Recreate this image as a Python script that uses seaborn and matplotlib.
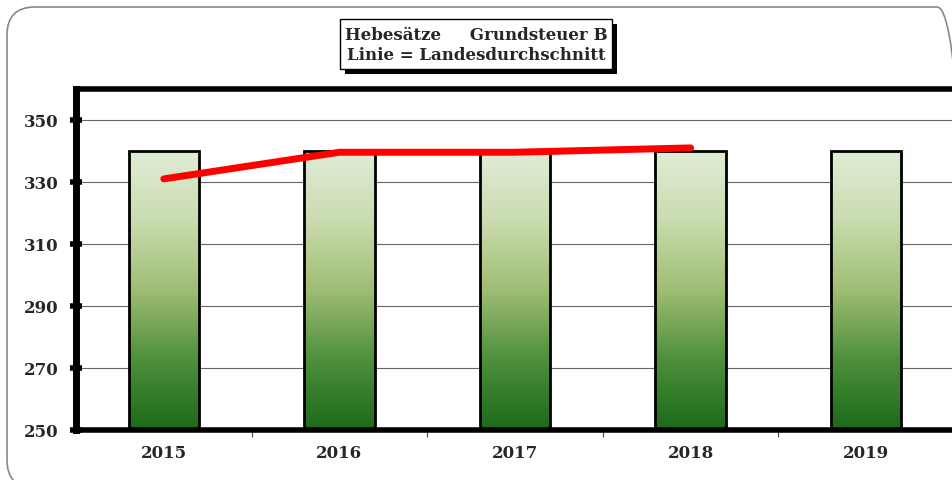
import numpy as np
import pandas as pd
import seaborn as sns
import matplotlib.pyplot as plt
from matplotlib.patches import Rectangle, FancyBboxPatch
from matplotlib.colors import LinearSegmentedColormap
from matplotlib.transforms import IdentityTransform

# Hebesätze Grundsteuer B
years = ["2015", "2016", "2017", "2018", "2019"]
hebesatz = [340, 340, 340, 340, 340]
landes_years = ["2015", "2016", "2017", "2018"]
landesdurchschnitt = [331, 339.6, 339.6, 341]

sns.set_theme(style="white")
plt.rcParams["font.family"] = ["DejaVu Serif"]

W, H = 953, 481
fig = plt.figure(figsize=(W / 100, H / 100), dpi=100)

# rounded outer frame in pixel coords (bottom and right run off the image)
frame = FancyBboxPatch((7, -8), 958, H, boxstyle="round,pad=0,rounding_size=28",
                       transform=IdentityTransform(), fc="none", ec="#888888", lw=1.2,
                       zorder=-1)
fig.patches.append(frame)

ax = fig.add_axes([76 / W, 1 - 431 / H, (954 - 76) / W, (431 - 90) / H])
ax.set_facecolor("none")

df = pd.DataFrame({"Jahr": years, "Hebesatz": hebesatz})
sns.barplot(data=df, x="Jahr", y="Hebesatz", order=years, width=0.4,
            color="white", edgecolor="black", linewidth=2, ax=ax, zorder=3)

ymin, ymax = 250, 360

# gradient fill inside each bar
cmap = LinearSegmentedColormap.from_list("grn", ["#1b6a1a", "#4d8f3a", "#9fbd73", "#c9dcae", "#e1ecd6"])
grad = np.linspace(0, 1, 256).reshape(-1, 1)
for p in list(ax.patches):
    x0, y0 = p.get_x(), p.get_y()
    w, h = p.get_width(), p.get_height()
    p.set_facecolor("none")
    ax.imshow(grad, extent=[x0, x0 + w, ymin, y0 + h], origin="lower",
              cmap=cmap, aspect="auto", zorder=2)

ax.set_xlim(-0.5, len(years) - 0.5)
ax.set_ylim(ymin, ymax)

# Landesdurchschnitt line
ldf = pd.DataFrame({"Jahr": [years.index(y) for y in landes_years], "Wert": landesdurchschnitt})
sns.lineplot(data=ldf, x="Jahr", y="Wert", color="#ff0000", linewidth=5,
             solid_capstyle="round", solid_joinstyle="round", ax=ax, zorder=5)

ax.set_xlim(-0.5, len(years) - 0.5)
ax.set_ylim(ymin, ymax)
ax.set_yticks(np.arange(250, 351, 20))
ax.grid(axis="y", color="#666666", linewidth=0.8, zorder=1)
ax.set_axisbelow(True)
ax.set_xlabel("")
ax.set_ylabel("")
ax.set_xticks(range(len(years)))
ax.set_xticklabels(years)
ax.set_xticks(np.arange(0.5, len(years) - 0.5, 1), minor=True)

for s in ["left", "top", "bottom"]:
    ax.spines[s].set_visible(True)
    ax.spines[s].set_color("black")
ax.spines["left"].set_linewidth(5)
ax.spines["top"].set_linewidth(4)
ax.spines["bottom"].set_linewidth(4)
ax.spines["right"].set_visible(False)

ax.tick_params(axis="y", which="major", direction="inout", length=9, width=4,
               color="black", labelsize=12, pad=8, left=True)
ax.tick_params(axis="x", which="major", length=0, labelsize=12, pad=10)
ax.tick_params(axis="x", which="minor", direction="out", length=5, width=0.8,
               color="#444444", bottom=True)
for lab in ax.get_xticklabels() + ax.get_yticklabels():
    lab.set_fontweight("bold")

# title box with shadow
bx, by, bw, bh = 340, 20, 272, 50
fig.patches.append(Rectangle(((bx + 5) / W, 1 - (by + bh + 5) / H), bw / W, bh / H,
                             transform=fig.transFigure, fc="black", ec="none", zorder=5))
fig.patches.append(Rectangle((bx / W, 1 - (by + bh) / H), bw / W, bh / H,
                             transform=fig.transFigure, fc="white", ec="black", lw=1, zorder=6))
fig.text((bx + bw / 2) / W, 1 - (by + 15) / H, "Hebesätze     Grundsteuer B",
         ha="center", va="center", fontsize=12, fontweight="bold", zorder=7)
fig.text((bx + bw / 2) / W, 1 - (by + 36) / H, "Linie = Landesdurchschnitt",
         ha="center", va="center", fontsize=12, fontweight="bold", zorder=7)

fig.savefig("out.png", dpi=100)
